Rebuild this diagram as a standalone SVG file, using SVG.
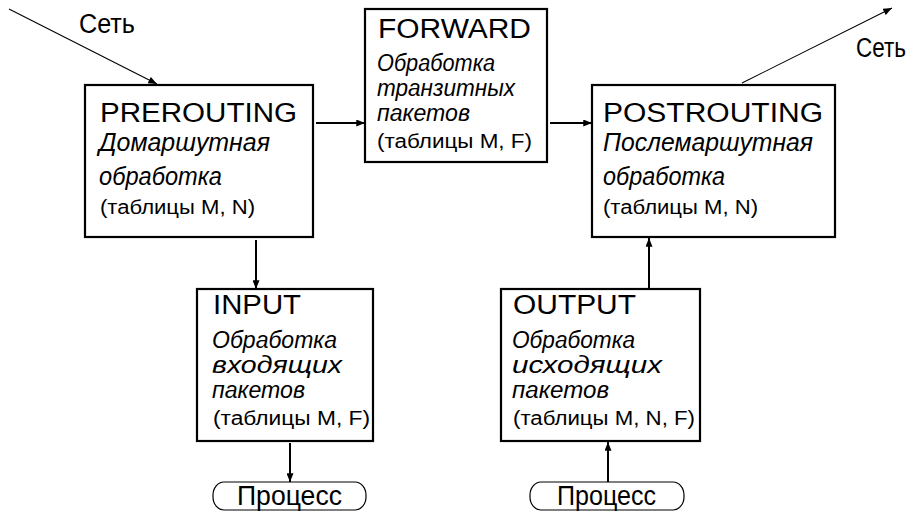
<svg xmlns="http://www.w3.org/2000/svg" width="916" height="520" viewBox="0 0 916 520">
<defs>
<marker id="ah" viewBox="0 0 10 8" refX="10" refY="4" markerWidth="9" markerHeight="7" markerUnits="userSpaceOnUse" orient="auto">
<path d="M0,0 L10,4 L0,8 Z" fill="#000"/>
</marker>
<style>
.box{fill:#fff;stroke:#000;stroke-width:2.2}
.proc{fill:none;stroke:#000;stroke-width:1.2}
.t{font-family:"Liberation Sans",Arial,sans-serif;font-size:27px;fill:#000}
.i{font-family:"Liberation Sans",Arial,sans-serif;font-size:25.5px;font-style:italic;fill:#000}
.it{font-family:"Liberation Sans",Arial,sans-serif;font-size:23.5px;font-style:italic;fill:#000}
.s{font-family:"Liberation Sans",Arial,sans-serif;font-size:20px;fill:#000}
.c{stroke:#000;stroke-width:2;fill:none}
.cl{stroke:#000;stroke-width:1.1;fill:none}
</style>
</defs>
<rect width="916" height="520" fill="#fff"/>
<g id="connectors">
<line class="cl" x1="9" y1="9" x2="157" y2="84" marker-end="url(#ah)"/>
<line class="c" x1="316" y1="123" x2="365" y2="123" marker-end="url(#ah)"/>
<line class="c" x1="550" y1="123" x2="592" y2="123" marker-end="url(#ah)"/>
<line class="cl" x1="742" y1="83" x2="892" y2="8" marker-end="url(#ah)"/>
<line class="c" x1="256" y1="240" x2="256" y2="289" marker-end="url(#ah)"/>
<line class="c" x1="290" y1="443" x2="290" y2="482" marker-end="url(#ah)"/>
<line class="c" x1="649" y1="289" x2="649" y2="238" marker-end="url(#ah)"/>
<line class="c" x1="608" y1="482" x2="608" y2="442" marker-end="url(#ah)"/>
</g>
<g id="net-in"><text class="t" x="79" y="33" textLength="56" lengthAdjust="spacingAndGlyphs">Сеть</text></g>
<g id="net-out"><text class="t" x="856" y="57" textLength="50" lengthAdjust="spacingAndGlyphs">Сеть</text></g>
<g id="prerouting">
<rect class="box" x="85" y="85" width="228" height="152"/>
<text class="t" x="100" y="122" textLength="197" lengthAdjust="spacingAndGlyphs">PREROUTING</text>
<text class="i" x="99" y="151" textLength="171" lengthAdjust="spacingAndGlyphs">Домаршутная</text>
<text class="i" x="99" y="185" textLength="123" lengthAdjust="spacingAndGlyphs">обработка</text>
<text class="s" x="100" y="214" textLength="155" lengthAdjust="spacingAndGlyphs">(таблицы M, N)</text>
</g>
<g id="forward">
<rect class="box" x="365" y="9" width="182" height="153"/>
<text class="t" x="378" y="38" textLength="153" lengthAdjust="spacingAndGlyphs">FORWARD</text>
<text class="it" x="377" y="71" textLength="118" lengthAdjust="spacingAndGlyphs">Обработка</text>
<text class="it" x="377" y="96" textLength="138" lengthAdjust="spacingAndGlyphs">транзитных</text>
<text class="it" x="377" y="121" textLength="93" lengthAdjust="spacingAndGlyphs">пакетов</text>
<text class="s" x="377" y="148" textLength="155" lengthAdjust="spacingAndGlyphs">(таблицы M, F)</text>
</g>
<g id="postrouting">
<rect class="box" x="592" y="85" width="243" height="152"/>
<text class="t" x="603" y="122" textLength="220" lengthAdjust="spacingAndGlyphs">POSTROUTING</text>
<text class="i" x="603" y="151" textLength="210" lengthAdjust="spacingAndGlyphs">Послемаршутная</text>
<text class="i" x="603" y="185" textLength="122" lengthAdjust="spacingAndGlyphs">обработка</text>
<text class="s" x="603" y="214" textLength="155" lengthAdjust="spacingAndGlyphs">(таблицы M, N)</text>
</g>
<g id="input">
<rect class="box" x="197" y="289" width="176" height="152"/>
<text class="t" x="213" y="314" textLength="88" lengthAdjust="spacingAndGlyphs">INPUT</text>
<text class="it" x="212" y="348" textLength="125" lengthAdjust="spacingAndGlyphs">Обработка</text>
<text class="it" x="212" y="373" textLength="130" lengthAdjust="spacingAndGlyphs">входящих</text>
<text class="it" x="212" y="398" textLength="93" lengthAdjust="spacingAndGlyphs">пакетов</text>
<text class="s" x="213" y="425" textLength="157" lengthAdjust="spacingAndGlyphs">(таблицы M, F)</text>
</g>
<g id="output">
<rect class="box" x="501" y="289" width="199" height="152"/>
<text class="t" x="513" y="314" textLength="123" lengthAdjust="spacingAndGlyphs">OUTPUT</text>
<text class="it" x="512" y="348" textLength="123" lengthAdjust="spacingAndGlyphs">Обработка</text>
<text class="it" x="512" y="373" textLength="150" lengthAdjust="spacingAndGlyphs">исходящих</text>
<text class="it" x="512" y="398" textLength="97" lengthAdjust="spacingAndGlyphs">пакетов</text>
<text class="s" x="513" y="425" textLength="182" lengthAdjust="spacingAndGlyphs">(таблицы M, N, F)</text>
</g>
<g id="process-in">
<rect class="proc" x="213" y="482" width="153" height="28" rx="11" ry="13"/>
<text class="t" x="237" y="505" textLength="105" lengthAdjust="spacingAndGlyphs">Процесс</text>
</g>
<g id="process-out">
<rect class="proc" x="530" y="482" width="154" height="28" rx="11" ry="13"/>
<text class="t" x="557" y="505" textLength="99" lengthAdjust="spacingAndGlyphs">Процесс</text>
</g>
</svg>
